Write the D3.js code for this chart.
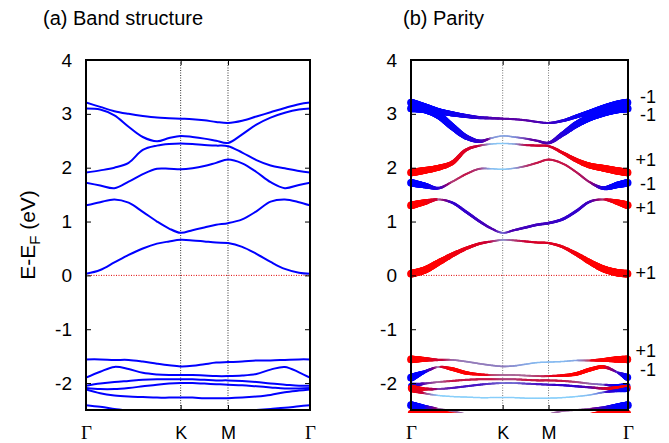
<!DOCTYPE html>
<html>
<head>
<meta charset="utf-8">
<script src="https://cdn.jsdelivr.net/npm/d3@7"></script>
<style>
  body { margin: 0; background: #fff; }
  svg { display: block; font-family: "Liberation Sans", Arial, sans-serif; }
</style>
</head>
<body>
<div id="chart"></div>
<script>
// k path Γ-K-M-Γ (hexagonal zone, distance along the path)
var kPath = [0, 0.2, 0.4, 0.6, 0.8, 1.0, 1.17, 1.333, 1.5, 1.667, 1.833, 2.0, 2.2, 2.4, 2.6, 2.8, 3.0, 3.155];
var kTicks = [0, 1.333, 2.0, 3.155];
var kLabels = ["Γ", "K", "M", "Γ"];
var yTicks = [-2, -1, 0, 1, 2, 3, 4];

// band energies E-EF (eV)
var c1 = [3.21, 3.13, 3.05, 3.00, 2.96, 2.93, 2.92, 2.91, 2.90, 2.88, 2.85, 2.83, 2.87, 2.95, 3.03, 3.11, 3.18, 3.21];
var c2 = [3.10, 3.08, 2.97, 2.76, 2.57, 2.49, 2.55, 2.59, 2.57, 2.54, 2.50, 2.46, 2.62, 2.80, 2.93, 3.02, 3.08, 3.10];
var c3 = [1.91, 1.95, 2.00, 2.09, 2.33, 2.41, 2.44, 2.45, 2.44, 2.42, 2.41, 2.40, 2.28, 2.14, 2.04, 1.99, 1.94, 1.91];
var c4 = [1.72, 1.67, 1.62, 1.74, 1.88, 1.98, 1.98, 1.97, 1.99, 2.03, 2.09, 2.15, 2.08, 1.92, 1.73, 1.62, 1.68, 1.72];
var c5 = [1.30, 1.36, 1.41, 1.35, 1.18, 1.00, 0.87, 0.79, 0.84, 0.89, 0.94, 0.97, 1.04, 1.19, 1.37, 1.41, 1.36, 1.30];
var c6 = [0.03, 0.10, 0.24, 0.38, 0.50, 0.59, 0.63, 0.66, 0.65, 0.63, 0.61, 0.60, 0.53, 0.40, 0.25, 0.12, 0.05, 0.03];
var v1 = [-1.56, -1.56, -1.57, -1.57, -1.60, -1.64, -1.67, -1.69, -1.68, -1.65, -1.62, -1.61, -1.60, -1.58, -1.58, -1.57, -1.56, -1.56];
var v2 = [-1.90, -1.79, -1.70, -1.74, -1.81, -1.84, -1.85, -1.85, -1.85, -1.86, -1.87, -1.87, -1.86, -1.83, -1.75, -1.70, -1.80, -1.90];
var v3 = [-2.05, -2.01, -1.98, -1.96, -1.94, -1.93, -1.93, -1.93, -1.93, -1.94, -1.95, -1.95, -1.96, -1.98, -2.01, -2.03, -2.05, -2.05];
var v4 = [-2.09, -2.11, -2.11, -2.09, -2.06, -2.03, -2.01, -2.00, -2.00, -2.01, -2.02, -2.03, -2.04, -2.06, -2.08, -2.10, -2.10, -2.09];
var v5 = [-2.12, -2.19, -2.23, -2.25, -2.26, -2.27, -2.27, -2.27, -2.27, -2.28, -2.28, -2.28, -2.27, -2.25, -2.22, -2.17, -2.14, -2.12];
var v6 = [-2.41, -2.44, -2.48, -2.52, -2.58, -2.65, -2.70, -2.72, -2.72, -2.70, -2.64, -2.58, -2.52, -2.50, -2.48, -2.46, -2.43, -2.41];
var v7 = [-2.56, -2.53, -2.53, -2.56, -2.60, -2.65, -2.68, -2.70, -2.70, -2.70, -2.70, -2.70, -2.66, -2.62, -2.58, -2.54, -2.53, -2.56];

// parity character (+1 red, -1 blue) and projected weight for panel (b)
var pc1 = [-1, -1, -1, -0.9, -0.8, -0.6, -0.4, -0.3, -0.3, -0.3, -0.4, -0.5, -0.7, -0.9, -1, -1, -1, -1];
var wc1 = [1, 0.9, 0.75, 0.6, 0.45, 0.3, 0.2, 0.14, 0.13, 0.13, 0.13, 0.14, 0.25, 0.42, 0.6, 0.8, 0.92, 1];
var pc2 = [-1, -1, -1, -0.95, -0.85, -0.6, 0, 0, -0.1, -0.2, -0.3, -0.4, -0.7, -0.9, -1, -1, -1, -1];
var wc2 = [1, 0.95, 0.9, 0.8, 0.6, 0.35, 0.06, 0.05, 0.06, 0.1, 0.15, 0.25, 0.55, 0.8, 0.9, 0.95, 1, 1];
var pc3 = [1, 1, 1, 0.9, 0.7, 0.5, 0.2, 0, 0.2, 0.5, 0.6, 0.6, 0.8, 0.9, 1, 1, 1, 1];
var wc3 = [1, 0.85, 0.7, 0.5, 0.3, 0.12, 0.04, 0.03, 0.05, 0.12, 0.15, 0.15, 0.3, 0.5, 0.7, 0.85, 0.95, 1];
var pc4 = [-1, -1, -0.7, 0.5, 0.6, 0.4, 0, 0, 0.2, 0.5, 0.6, 0.6, 0.6, 0.5, 0.2, -0.8, -1, -1];
var wc4 = [1, 0.7, 0.2, 0.1, 0.12, 0.1, 0.04, 0.03, 0.05, 0.1, 0.12, 0.12, 0.12, 0.12, 0.12, 0.4, 0.8, 1];
var pc5 = [1, 1, 0.5, -0.6, -0.6, -0.5, -0.4, -0.3, -0.4, -0.5, -0.5, -0.5, -0.6, -0.6, -0.5, 0.5, 1, 1];
var wc5 = [1, 0.7, 0.08, 0.2, 0.25, 0.22, 0.15, 0.08, 0.15, 0.2, 0.2, 0.22, 0.25, 0.25, 0.18, 0.1, 0.65, 1];
var pc6 = [1, 1, 1, 0.9, 0.8, 0.7, 0.5, 0.2, 0.5, 0.6, 0.7, 0.7, 0.8, 0.9, 1, 1, 1, 1];
var wc6 = [1, 0.9, 0.75, 0.55, 0.35, 0.22, 0.12, 0.06, 0.1, 0.13, 0.15, 0.15, 0.25, 0.45, 0.65, 0.85, 0.95, 1];
var pv1 = [1, 1, 0.6, 0.4, 0.3, 0.3, 0.2, 0.2, 0.1, 0, -0.1, -0.2, -0.2, 0, 0.8, 1, 1, 1];
var wv1 = [1, 0.55, 0.15, 0.08, 0.07, 0.07, 0.07, 0.07, 0.06, 0.05, 0.04, 0.04, 0.04, 0.05, 0.1, 0.4, 0.8, 1];
var pv2 = [-1, -1, 0.5, 1, 1, 0.9, 0.7, 0.6, 0.6, 0.6, 0.6, 0.7, 0.9, 1, 1, 1, -0.5, -1];
var wv2 = [1, 0.3, 0.06, 0.42, 0.38, 0.18, 0.1, 0.08, 0.08, 0.08, 0.1, 0.12, 0.22, 0.4, 0.45, 0.35, 0.1, 0.9];
var pv3 = [-1, -0.3, 0.5, 0.6, 0.6, 0.6, 0.6, 0.5, 0.5, 0.6, 0.6, 0.6, 0.6, 0.5, 0.3, -0.3, -1, -1];
var wv3 = [0.7, 0.12, 0.08, 0.12, 0.12, 0.12, 0.12, 0.1, 0.1, 0.12, 0.12, 0.12, 0.12, 0.1, 0.08, 0.08, 0.35, 0.7];
var pv4 = [1, 0.8, 0, -0.4, -0.5, -0.5, -0.4, -0.3, -0.3, -0.4, -0.5, -0.5, -0.6, -0.6, -0.3, 0.5, 1, 1];
var wv4 = [0.8, 0.3, 0.1, 0.12, 0.12, 0.12, 0.1, 0.08, 0.08, 0.1, 0.12, 0.12, 0.14, 0.16, 0.15, 0.2, 0.55, 0.8];
var pv5 = [1, 0.5, 0, 0, 0, 0, 0, 0, 0, 0, 0, 0, 0, 0, -0.2, -0.5, -0.8, -1];
var wv5 = [0.6, 0.1, 0.03, 0.03, 0.03, 0.03, 0.03, 0.03, 0.03, 0.03, 0.03, 0.03, 0.03, 0.03, 0.04, 0.08, 0.3, 0.6];
var pv6 = [-1, -1, 0.3, 0.4, 0.4, 0.4, 0.4, 0.4, 0.4, 0.4, 0.4, 0.4, 0.4, 0.3, 0, -0.6, -1, -1];
var wv6 = [1, 0.4, 0.08, 0.08, 0.08, 0.08, 0.08, 0.08, 0.08, 0.08, 0.08, 0.08, 0.08, 0.08, 0.1, 0.3, 0.7, 1];
var pv7 = [1, 1, 1, 1, 1, 1, 1, 1, 1, 1, 1, 1, 1, 1, 1, 1, 1, 1];
var wv7 = [0.8, 0.6, 0.3, 0.12, 0.1, 0.1, 0.1, 0.1, 0.1, 0.1, 0.1, 0.1, 0.1, 0.12, 0.2, 0.4, 0.6, 0.8];

// parity labels at the right of panel (b)
var parityText = ["-1", "-1", "+1", "-1", "+1", "+1", "+1", "-1"];
var parityE = [3.32, 2.98, 2.15, 1.70, 1.26, 0.06, -1.40, -1.75];

var bands = [
  {e: c1, p: pc1, w: wc1}, {e: c2, p: pc2, w: wc2}, {e: c3, p: pc3, w: wc3},
  {e: c4, p: pc4, w: wc4}, {e: c5, p: pc5, w: wc5}, {e: c6, p: pc6, w: wc6},
  {e: v1, p: pv1, w: wv1}, {e: v2, p: pv2, w: wv2}, {e: v3, p: pv3, w: wv3},
  {e: v4, p: pv4, w: wv4}, {e: v5, p: pv5, w: wv5}, {e: v6, p: pv6, w: wv6},
  {e: v7, p: pv7, w: wv7}
];

var sans = "'Liberation Sans', Arial, sans-serif";
var serif = "'Liberation Serif', 'Times New Roman', serif";
var kEnd = kPath[kPath.length - 1];

var svg = d3.select("#chart")
  .append("svg")
  .attr("width", 669)
  .attr("height", 443);

var y = d3.scaleLinear().domain([-2.5, 4]).range([410, 60]);
var xa = d3.scaleLinear().domain([0, kEnd]).range([86, 310]);
var xb = d3.scaleLinear().domain([0, kEnd]).range([411, 628]);

function bandColor(p, w) {
  var base = d3.interpolateRgb("#0000ff", "#ff0000")((p + 1) / 2);
  var t = Math.max(0, Math.min(1, (w - 0.03) / 0.1));
  return d3.interpolateRgb("#87cefa", base)(t);
}

function drawBack(g, x, gridColor) {
  g.selectAll(".kline")
    .data(kTicks.slice(1, 3))
    .enter().append("line")
    .attr("class", "kline")
    .attr("x1", function(d) { return x(d); })
    .attr("x2", function(d) { return x(d); })
    .attr("y1", y(4))
    .attr("y2", y(-2.5))
    .attr("stroke", gridColor)
    .attr("stroke-width", 1)
    .attr("stroke-dasharray", "1,1.5");

  g.append("line")
    .attr("x1", x(0)).attr("x2", x(kEnd))
    .attr("y1", y(0)).attr("y2", y(0))
    .attr("stroke", "#e00000")
    .attr("stroke-width", 1)
    .attr("stroke-dasharray", "1,1.5");
}

function drawFrame(g, x) {
  var x0 = x.range()[0], x1 = x.range()[1];

  var left = g.append("g")
    .attr("transform", "translate(" + x0 + ",0)")
    .call(d3.axisLeft(y).tickValues(yTicks).tickSize(-5).tickPadding(14)
      .tickFormat(function(d) { return String(d); }));
  var right = g.append("g")
    .attr("transform", "translate(" + x1 + ",0)")
    .call(d3.axisRight(y).tickValues(yTicks).tickSize(-5).tickFormat(""));
  var bottom = g.append("g")
    .attr("transform", "translate(0," + y(-2.5) + ")")
    .call(d3.axisBottom(x).tickValues(kTicks).tickSize(-5).tickPadding(16)
      .tickFormat(function(d, i) { return kLabels[i]; }));
  var top = g.append("g")
    .attr("transform", "translate(0," + y(4) + ")")
    .call(d3.axisTop(x).tickValues(kTicks).tickSize(-5).tickFormat(""));

  [left, right, bottom, top].forEach(function(a) {
    a.attr("font-size", null).attr("font-family", null);
    a.select(".domain").remove();
    a.selectAll("line").attr("stroke", "#000");
  });
  left.selectAll("text").attr("font-size", 19).attr("font-family", sans).attr("fill", "#000");
  bottom.selectAll("text")
    .attr("fill", "#000")
    .attr("font-size", function(d, i) { return kLabels[i] == "Γ" ? 19 : 18; })
    .attr("font-family", function(d, i) { return kLabels[i] == "Γ" ? serif : sans; });

  g.append("rect")
    .attr("x", x0).attr("y", y(4))
    .attr("width", x1 - x0).attr("height", y(-2.5) - y(4))
    .attr("fill", "none")
    .attr("stroke", "#000")
    .attr("stroke-width", 2);
}

var defs = svg.append("defs");
defs.append("clipPath").attr("id", "clipA")
  .append("rect").attr("x", 86).attr("y", 60).attr("width", 224).attr("height", 350);
defs.append("clipPath").attr("id", "clipB")
  .append("rect").attr("x", 400).attr("y", 57).attr("width", 240).attr("height", 356);

var line = function(x) {
  return d3.line()
    .x(function(d, i) { return x(kPath[i]); })
    .y(function(d) { return y(d); })
    .curve(d3.curveCatmullRom.alpha(0.5));
};

// ---- panel (a)
var ga = svg.append("g");
drawBack(ga, xa, "#333");
ga.append("g").attr("clip-path", "url(#clipA)")
  .selectAll(".band")
  .data(bands)
  .enter().append("path")
  .attr("class", "band")
  .attr("d", function(b) { return line(xa)(b.e); })
  .attr("fill", "none")
  .attr("stroke", "#0000ff")
  .attr("stroke-width", 2);
drawFrame(ga, xa);

// ---- panel (b): fat bands drawn as dots along each band
var gb = svg.append("g");
drawBack(gb, xb, "#777");
var dots = gb.append("g").attr("clip-path", "url(#clipB)");
bands.forEach(function(b) {
  var wScale = d3.scaleLinear().domain(kPath).range(b.w).clamp(true);
  var pScale = d3.scaleLinear().domain(kPath).range(b.p).clamp(true);
  var guide = dots.append("path")
    .attr("d", line(xb)(b.e))
    .attr("fill", "none")
    .attr("stroke", "none");
  var node = guide.node();
  var len = node.getTotalLength();
  var pts = [];
  for (var s = 0; s <= len; s += 0.6) {
    var pt = node.getPointAtLength(s);
    var k = xb.invert(pt.x);
    pts.push({x: pt.x, y: pt.y, w: wScale(k), p: pScale(k)});
  }
  dots.append("g")
    .selectAll("circle")
    .data(pts)
    .enter().append("circle")
    .attr("cx", function(d) { return d.x; })
    .attr("cy", function(d) { return d.y; })
    .attr("r", function(d) { return 0.65 + 3.2 * d.w; })
    .attr("fill", function(d) { return bandColor(d.p, d.w); });
});
drawFrame(gb, xb);

gb.selectAll(".plabel")
  .data(parityText)
  .enter().append("text")
  .attr("class", "plabel")
  .attr("x", 656)
  .attr("y", function(d, i) { return y(parityE[i]); })
  .attr("dy", "0.36em")
  .attr("text-anchor", "end")
  .attr("font-size", 18)
  .attr("font-family", sans)
  .text(function(d) { return d; });

// ---- titles and axis label
svg.append("text")
  .attr("x", 43).attr("y", 25)
  .attr("font-size", 20)
  .text("(a) Band structure");
svg.append("text")
  .attr("x", 403).attr("y", 25)
  .attr("font-size", 20)
  .text("(b) Parity");

var ylab = svg.append("text")
  .attr("transform", "translate(35,235) rotate(-90)")
  .attr("text-anchor", "middle")
  .attr("font-size", 21);
ylab.append("tspan").text("E-E");
ylab.append("tspan").attr("font-size", 15).attr("dy", 5).text("F");
ylab.append("tspan").attr("dy", -5).text(" (eV)");
</script>
</body>
</html>
